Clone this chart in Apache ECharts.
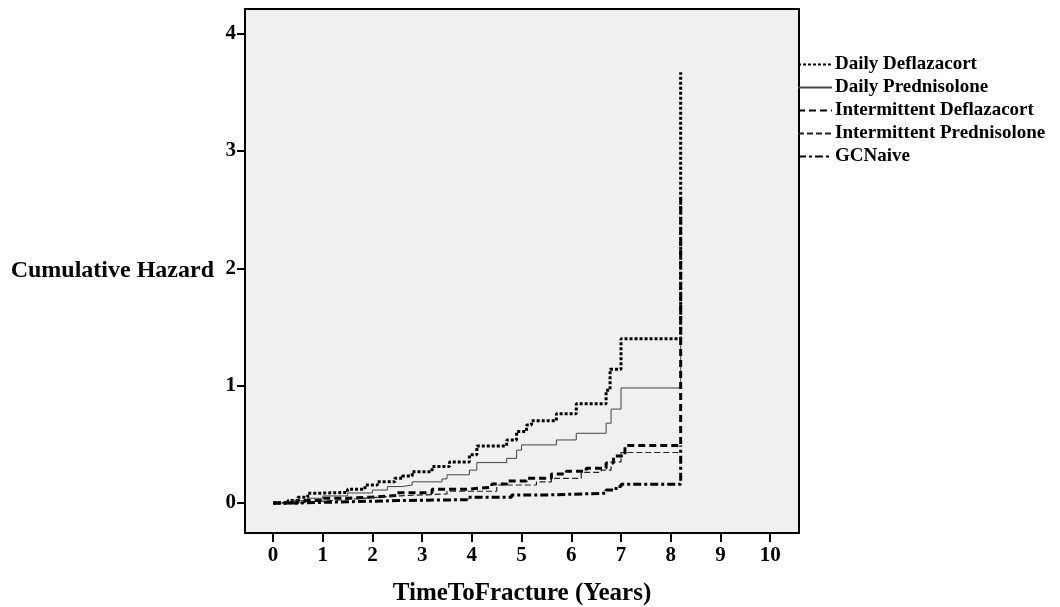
<!DOCTYPE html>
<html>
<head>
<meta charset="utf-8">
<script src="https://cdn.jsdelivr.net/npm/echarts@6/dist/echarts.min.js"></script>
<style>
  html, body { margin: 0; padding: 0; background: #fff; }
  #chart { width: 1060px; height: 607px; }
</style>
</head>
<body>
<div id="chart"></div>
<script>
const seriesNames = ['Daily Deflazacort', 'Daily Prednisolone', 'Intermittent Deflazacort', 'Intermittent Prednisolone', 'GCNaive'];
const xTicks = [0, 1, 2, 3, 4, 5, 6, 7, 8, 9, 10];
const yTicks = [0, 1, 2, 3, 4];

// step points: time (years) and cumulative hazard
const ddTime = [0, 0.3, 0.5, 0.7, 0.9, 1.5, 1.85, 2.1, 2.45, 2.6, 2.8, 3.2, 3.55, 3.95, 4.1, 4.7, 4.9, 5.1, 5.2, 5.7, 6.1, 6.7, 6.78, 7.0, 8.2];
const ddHaz = [0, 0.02, 0.048, 0.083, 0.09, 0.117, 0.153, 0.18, 0.21, 0.23, 0.267, 0.31, 0.35, 0.41, 0.486, 0.537, 0.61, 0.665, 0.70, 0.76, 0.845, 0.96, 1.14, 1.40, 3.67];

const dpTime = [0, 0.4, 0.7, 1.0, 1.5, 2.0, 2.3, 2.6, 2.8, 3.4, 3.5, 3.95, 4.1, 4.7, 4.9, 5.0, 5.7, 6.1, 6.7, 6.8, 7.0, 8.2];
const dpHaz = [0, 0.02, 0.04, 0.06, 0.085, 0.11, 0.14, 0.153, 0.18, 0.205, 0.24, 0.28, 0.344, 0.38, 0.45, 0.495, 0.537, 0.594, 0.68, 0.80, 0.98, 1.42];

const idTime = [0, 0.5, 1.0, 1.5, 2.0, 2.5, 3.2, 3.9, 4.4, 4.7, 5.1, 5.6, 5.9, 6.3, 6.7, 6.85, 7.08, 8.2];
const idHaz = [0, 0.02, 0.04, 0.05, 0.065, 0.088, 0.117, 0.134, 0.162, 0.188, 0.21, 0.247, 0.27, 0.296, 0.34, 0.40, 0.49, 2.6];

const ipTime = [0, 0.5, 1.0, 1.5, 2.0, 2.5, 3.5, 4.5, 5.3, 5.6, 6.2, 6.6, 6.8, 7.0, 8.2];
const ipHaz = [0, 0.015, 0.03, 0.045, 0.06, 0.077, 0.1, 0.153, 0.18, 0.21, 0.26, 0.28, 0.35, 0.43, 0.43];

const gcTime = [0, 0.5, 1.0, 1.5, 2.0, 2.5, 3.9, 4.8, 5.5, 6.7, 6.9, 7.0, 8.2];
const gcHaz = [0, 0.005, 0.01, 0.015, 0.02, 0.028, 0.048, 0.068, 0.083, 0.11, 0.14, 0.16, 0.49];

const pairs = (t, h) => t.map((v, i) => [v, h[i]]);

const font = 'Liberation Serif';
const myChart = echarts.init(document.getElementById('chart'));

const lineSeries = (name, data, width, type, color) => ({
    name: name,
    type: 'line',
    step: 'end',
    data: data,
    showSymbol: false,
    symbol: 'none',
    animation: false,
    lineStyle: { width: width, type: type, color: color },
    itemStyle: { color: color }
});

const option = {
    animation: false,
    legend: {
        orient: 'vertical',
        left: 792,
        top: 50,
        itemWidth: 34,
        itemHeight: 14,
        itemGap: 4,
        itemStyle: { opacity: 0 },
        textStyle: { fontFamily: font, fontWeight: 'bold', fontSize: 19, color: '#000', padding: [0, 0, 0, -2] },
        data: seriesNames
    },
    grid: {
        left: 245,
        top: 9,
        right: 261,
        bottom: 74,
        show: true,
        backgroundColor: '#f0f0f0',
        borderColor: '#000',
        borderWidth: 2,
        outerBoundsMode: 'none'
    },
    xAxis: {
        type: 'value',
        min: -0.563,
        max: 10.58,
        name: 'TimeToFracture (Years)',
        nameLocation: 'middle',
        nameGap: 48,
        nameTextStyle: { fontFamily: font, fontWeight: 'bold', fontSize: 25, color: '#000' },
        axisLine: { show: true, onZero: false, lineStyle: { color: '#000', width: 2 } },
        axisTick: { show: true, length: 9, customValues: xTicks, lineStyle: { color: '#000', width: 2 } },
        axisLabel: { customValues: xTicks, margin: 12, fontFamily: font, fontWeight: 'bold', fontSize: 21, color: '#000' },
        splitLine: { show: false }
    },
    yAxis: {
        type: 'value',
        min: -0.256,
        max: 4.21,
        name: 'Cumulative Hazard',
        nameLocation: 'middle',
        nameRotate: 0,
        nameGap: 31,
        nameTextStyle: { fontFamily: font, fontWeight: 'bold', fontSize: 24, color: '#000' },
        axisLine: { show: true, onZero: false, lineStyle: { color: '#000', width: 2 } },
        axisTick: { show: true, length: 8, customValues: yTicks, lineStyle: { color: '#000', width: 2 } },
        axisLabel: { customValues: yTicks, margin: 9, fontFamily: font, fontWeight: 'bold', fontSize: 21, color: '#000' },
        splitLine: { show: false }
    },
    series: [
        lineSeries(seriesNames[0], pairs(ddTime, ddHaz), 3, [3, 2], '#000'),
        lineSeries(seriesNames[1], pairs(dpTime, dpHaz), 1, 'solid', '#444'),
        lineSeries(seriesNames[2], pairs(idTime, idHaz), 3, [7, 4], '#000'),
        lineSeries(seriesNames[3], pairs(ipTime, ipHaz), 1.2, [6, 3], '#222'),
        lineSeries(seriesNames[4], pairs(gcTime, gcHaz), 3, [8, 3, 3, 3], '#000')
    ]
};
myChart.setOption(option);
</script>
</body>
</html>
